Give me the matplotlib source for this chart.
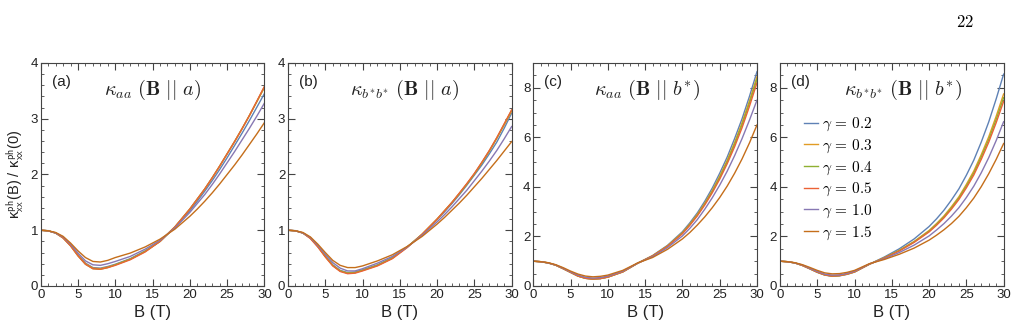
import numpy as np
import matplotlib
matplotlib.use("Agg")
import matplotlib.pyplot as plt
from matplotlib.ticker import MultipleLocator

plt.rcParams['font.family'] = ['Liberation Sans', 'DejaVu Sans']
plt.rcParams['mathtext.fontset'] = 'cm'

# field values (T)
B = [0, 1, 2, 3, 4, 5, 6, 7, 8, 9, 10, 12, 14, 16, 18,
     20, 21, 22, 23, 24, 25, 26, 27, 28, 29, 30]
gammas = ['0.2', '0.3', '0.4', '0.5', '1.0', '1.5']
colors = ['#5e81b5', '#e19c24', '#8fb032', '#eb6235', '#8778b3', '#c56e1a']

# (a) kappa_aa, B || a
ka_02 = [1.0, 0.99, 0.95, 0.87, 0.73, 0.56, 0.41, 0.33, 0.32, 0.35, 0.39, 0.49, 0.63, 0.80, 1.05,
         1.35, 1.52, 1.70, 1.89, 2.09, 2.30, 2.52, 2.74, 2.97, 3.21, 3.45]
ka_03 = [1.0, 0.99, 0.95, 0.87, 0.73, 0.55, 0.40, 0.32, 0.31, 0.34, 0.38, 0.48, 0.62, 0.80, 1.06,
         1.38, 1.56, 1.74, 1.94, 2.15, 2.37, 2.59, 2.82, 3.06, 3.31, 3.56]
ka_04 = [1.0, 0.99, 0.95, 0.86, 0.72, 0.54, 0.39, 0.31, 0.30, 0.33, 0.38, 0.48, 0.62, 0.80, 1.06,
         1.38, 1.56, 1.74, 1.94, 2.15, 2.37, 2.59, 2.82, 3.06, 3.31, 3.57]
ka_05 = [1.0, 0.99, 0.95, 0.86, 0.72, 0.54, 0.39, 0.31, 0.30, 0.33, 0.37, 0.47, 0.61, 0.80, 1.06,
         1.38, 1.56, 1.74, 1.94, 2.15, 2.37, 2.59, 2.82, 3.06, 3.32, 3.58]
ka_10 = [1.0, 0.99, 0.95, 0.88, 0.75, 0.59, 0.45, 0.38, 0.37, 0.40, 0.44, 0.53, 0.66, 0.82, 1.04,
         1.32, 1.48, 1.64, 1.82, 2.01, 2.21, 2.41, 2.62, 2.83, 3.05, 3.28]
ka_15 = [1.0, 0.99, 0.96, 0.89, 0.77, 0.63, 0.51, 0.44, 0.43, 0.46, 0.51, 0.59, 0.70, 0.84, 1.02,
         1.25, 1.38, 1.52, 1.67, 1.83, 2.00, 2.17, 2.35, 2.54, 2.73, 2.93]

# (b) kappa_b*b*, B || a
kb_02 = [1.0, 0.99, 0.95, 0.86, 0.71, 0.54, 0.38, 0.28, 0.24, 0.25, 0.29, 0.38, 0.51, 0.70, 0.92,
         1.19, 1.33, 1.48, 1.64, 1.81, 1.99, 2.17, 2.37, 2.58, 2.83, 3.10]
kb_03 = [1.0, 0.99, 0.95, 0.86, 0.71, 0.53, 0.37, 0.27, 0.23, 0.24, 0.28, 0.37, 0.50, 0.70, 0.93,
         1.20, 1.35, 1.50, 1.66, 1.83, 2.01, 2.21, 2.42, 2.65, 2.89, 3.14]
kb_04 = [1.0, 0.99, 0.95, 0.86, 0.71, 0.53, 0.37, 0.27, 0.23, 0.24, 0.28, 0.37, 0.50, 0.70, 0.93,
         1.20, 1.35, 1.50, 1.66, 1.83, 2.01, 2.21, 2.42, 2.65, 2.90, 3.15]
kb_05 = [1.0, 0.99, 0.95, 0.85, 0.70, 0.52, 0.36, 0.26, 0.22, 0.23, 0.27, 0.36, 0.49, 0.69, 0.93,
         1.20, 1.35, 1.50, 1.67, 1.84, 2.02, 2.22, 2.43, 2.66, 2.91, 3.16]
kb_10 = [1.0, 0.99, 0.95, 0.87, 0.73, 0.57, 0.42, 0.32, 0.27, 0.27, 0.31, 0.41, 0.53, 0.70, 0.91,
         1.15, 1.28, 1.42, 1.57, 1.72, 1.89, 2.06, 2.24, 2.43, 2.64, 2.86]
kb_15 = [1.0, 0.99, 0.96, 0.88, 0.75, 0.60, 0.46, 0.37, 0.33, 0.33, 0.36, 0.45, 0.56, 0.71, 0.89,
         1.11, 1.23, 1.36, 1.49, 1.63, 1.78, 1.93, 2.09, 2.25, 2.42, 2.59]

# (c) kappa_aa, B || b*
kc_02 = [1.0, 0.98, 0.93, 0.84, 0.70, 0.55, 0.40, 0.31, 0.28, 0.30, 0.36, 0.57, 0.92, 1.23, 1.64,
         2.19, 2.55, 2.95, 3.42, 3.95, 4.55, 5.20, 5.95, 6.75, 7.66, 8.65]
kc_03 = [1.0, 0.98, 0.93, 0.84, 0.70, 0.55, 0.40, 0.31, 0.28, 0.30, 0.36, 0.57, 0.92, 1.22, 1.62,
         2.15, 2.50, 2.89, 3.34, 3.85, 4.43, 5.07, 5.79, 6.59, 7.48, 8.45]
kc_04 = [1.0, 0.98, 0.93, 0.84, 0.70, 0.55, 0.40, 0.31, 0.28, 0.30, 0.36, 0.57, 0.92, 1.21, 1.61,
         2.13, 2.48, 2.86, 3.31, 3.81, 4.38, 5.01, 5.72, 6.51, 7.39, 8.35]
kc_05 = [1.0, 0.98, 0.93, 0.84, 0.70, 0.55, 0.40, 0.31, 0.28, 0.30, 0.36, 0.57, 0.92, 1.21, 1.60,
         2.11, 2.45, 2.83, 3.27, 3.76, 4.31, 4.93, 5.62, 6.39, 7.26, 8.20]
kc_10 = [1.0, 0.98, 0.93, 0.85, 0.72, 0.57, 0.44, 0.35, 0.32, 0.34, 0.40, 0.60, 0.92, 1.18, 1.55,
         2.02, 2.33, 2.68, 3.10, 3.56, 4.07, 4.63, 5.26, 5.95, 6.70, 7.50]
kc_15 = [1.0, 0.98, 0.94, 0.86, 0.74, 0.60, 0.48, 0.40, 0.37, 0.39, 0.44, 0.63, 0.93, 1.15, 1.48,
         1.90, 2.16, 2.46, 2.79, 3.16, 3.57, 4.03, 4.55, 5.13, 5.78, 6.50]

# (d) kappa_b*b*, B || b*
kd_02 = [1.0, 0.98, 0.93, 0.83, 0.69, 0.55, 0.44, 0.39, 0.41, 0.47, 0.56, 0.88, 1.17, 1.50, 1.90,
         2.40, 2.71, 3.06, 3.47, 3.92, 4.47, 5.08, 5.81, 6.62, 7.55, 8.55]
kd_03 = [1.0, 0.98, 0.93, 0.83, 0.70, 0.56, 0.45, 0.40, 0.42, 0.48, 0.57, 0.88, 1.14, 1.44, 1.80,
         2.24, 2.52, 2.83, 3.20, 3.60, 4.10, 4.64, 5.30, 6.02, 6.85, 7.75]
kd_04 = [1.0, 0.98, 0.93, 0.83, 0.70, 0.56, 0.45, 0.40, 0.42, 0.48, 0.57, 0.88, 1.14, 1.43, 1.78,
         2.21, 2.49, 2.79, 3.15, 3.55, 4.03, 4.56, 5.21, 5.91, 6.72, 7.60]
kd_05 = [1.0, 0.98, 0.93, 0.83, 0.70, 0.56, 0.45, 0.40, 0.42, 0.48, 0.57, 0.88, 1.13, 1.41, 1.76,
         2.18, 2.45, 2.75, 3.10, 3.49, 3.96, 4.48, 5.11, 5.80, 6.59, 7.45]
kd_10 = [1.0, 0.98, 0.93, 0.85, 0.72, 0.59, 0.48, 0.44, 0.45, 0.51, 0.60, 0.89, 1.10, 1.35, 1.65,
         2.02, 2.26, 2.52, 2.82, 3.16, 3.57, 4.03, 4.57, 5.18, 5.87, 6.63]
kd_15 = [1.0, 0.98, 0.94, 0.86, 0.75, 0.63, 0.53, 0.49, 0.50, 0.55, 0.63, 0.90, 1.07, 1.28, 1.53,
         1.85, 2.05, 2.27, 2.52, 2.81, 3.16, 3.55, 4.01, 4.53, 5.11, 5.75]

panels = [
    ('(a)', r'$\kappa_{aa}\ (\mathbf{B}\ ||\ a)$', [ka_02, ka_03, ka_04, ka_05, ka_10, ka_15], 4, 1, 0.2, 0.50),
    ('(b)', r'$\kappa_{b^{\mathrm{*}}b^{\mathrm{*}}}\ (\mathbf{B}\ ||\ a)$', [kb_02, kb_03, kb_04, kb_05, kb_10, kb_15], 4, 1, 0.2, 0.52),
    ('(c)', r'$\kappa_{aa}\ (\mathbf{B}\ ||\ b^{\mathrm{*}})$', [kc_02, kc_03, kc_04, kc_05, kc_10, kc_15], 9, 2, 0.5, 0.51),
    ('(d)', r'$\kappa_{b^{\mathrm{*}}b^{\mathrm{*}}}\ (\mathbf{B}\ ||\ b^{\mathrm{*}})$', [kd_02, kd_03, kd_04, kd_05, kd_10, kd_15], 9, 2, 0.5, 0.55),
]

lefts = [0.0397, 0.2807, 0.5198, 0.7602]
axcol = '#444444'

fig = plt.figure(figsize=(10.26, 3.32), dpi=100)

for i, (lab, title, series, ytop, ymaj, ymin, tx) in enumerate(panels):
    ax = fig.add_axes([lefts[i], 0.1386, 0.2180, 0.6717])
    for s, g, c in zip(series, gammas, colors):
        ax.plot(B, s, color=c, lw=1.0, label=r'$\gamma\,=\,%s$' % g)
    ax.set_xlim(0, 30)
    ax.set_ylim(0, ytop)
    ax.xaxis.set_major_locator(MultipleLocator(5))
    ax.xaxis.set_minor_locator(MultipleLocator(1))
    ax.yaxis.set_major_locator(MultipleLocator(ymaj))
    ax.yaxis.set_minor_locator(MultipleLocator(ymin))
    ax.tick_params(which='both', direction='in', top=True, right=True,
                   colors=axcol, labelcolor='#222222', labelsize=9.5, pad=2)
    ax.tick_params(which='major', length=5, width=0.8)
    ax.tick_params(which='minor', length=2.5, width=0.6)
    for sp in ax.spines.values():
        sp.set_color(axcol)
        sp.set_linewidth(0.8)
    ax.set_xlabel('B (T)', fontsize=12, color='#222222', labelpad=3)
    ax.text(0.05, 0.915, lab, transform=ax.transAxes, fontsize=11,
            va='center', ha='left', color='#222222')
    ax.text(tx, 0.88, title, transform=ax.transAxes, fontsize=14.5,
            va='center', ha='center', color='#222222')
    if i == 0:
        ax.set_ylabel(r'κ$_{\mathsf{xx}}^{\mathsf{ph}}$(B) / κ$_{\mathsf{xx}}^{\mathsf{ph}}$(0)',
                      fontsize=10.5, color='#222222', labelpad=3)
    if i == 3:
        ax.legend(loc='upper left', bbox_to_anchor=(0.08, 0.79), frameon=False,
                  fontsize=11, handlelength=0.9, handletextpad=0.3,
                  labelspacing=0.28, borderaxespad=0)

fig.text(0.94, 0.935, r'$22$', fontsize=12, ha='center', va='center')

fig.savefig('out.png', dpi=100)
